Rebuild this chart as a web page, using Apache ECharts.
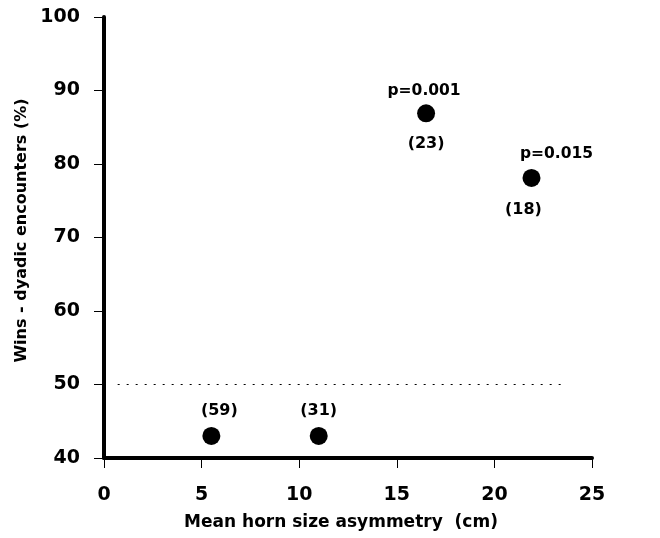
<!DOCTYPE html>
<html><head><meta charset="utf-8">
<script src="https://cdn.jsdelivr.net/npm/echarts@6/dist/echarts.min.js"></script>
<style>html,body{margin:0;padding:0;background:#fff}#c{width:660px;height:538px}</style>
</head><body><div id="c"></div>
<script>
const asymmetry = [5.5, 11, 16.5, 21.9];
const winsPct = [43, 43, 86.9, 78.1];
const sampleSizes = ['(59)', '(31)', '(23)', '(18)'];
const pValues = ['', '', 'p=0.001', 'p=0.015'];
const xTicks = [0, 5, 10, 15, 20, 25];
const yTicks = [40, 50, 60, 70, 80, 90, 100];
const refLevel = 50;
const refRange = [0.7, 23.7];

const F = '"DejaVu Sans", sans-serif';
const nLabelPos = [
  {position: 'top', distance: 8, offset: [8, 0]},
  {position: 'top', distance: 8, offset: [0, 0]},
  {position: 'bottom', distance: 14, offset: [0, 0]},
  {position: 'bottom', distance: 15, offset: [-8, 0]}
];
const pLabelPos = [null, null,
  {position: 'top', distance: 5, offset: [-2, 0]},
  {position: 'top', distance: 7, offset: [25, 0]}
];

const chart = echarts.init(document.getElementById('c'));
chart.setOption({
  animation: false,
  backgroundColor: '#fff',
  grid: {left: 104, top: 17, right: 68, bottom: 80},
  xAxis: {
    type: 'value', min: 0, max: 25, interval: 5,
    name: 'Mean horn size asymmetry  (cm)', nameLocation: 'middle', nameGap: 56,
    nameTextStyle: {fontFamily: F, fontWeight: 'bold', fontSize: 17, color: '#000', padding: [0, 14, 0, 0]},
    axisLine: {show: true, onZero: false, lineStyle: {color: '#000', width: 4}},
    axisTick: {show: true, inside: false, length: 10, lineStyle: {color: '#000', width: 1}},
    axisLabel: {fontFamily: F, fontWeight: 'bold', fontSize: 19, color: '#000', margin: 28,
      formatter: v => xTicks.includes(v) ? String(v) : ''},
    splitLine: {show: false}
  },
  yAxis: {
    type: 'value', min: 40, max: 100, interval: 10,
    name: 'Wins - dyadic encounters (%)', nameLocation: 'middle', nameGap: 67,
    nameTextStyle: {fontFamily: F, fontWeight: 'bold', fontSize: 16, color: '#000', padding: [0, 0, 0, 14]},
    axisLine: {show: true, onZero: false, lineStyle: {color: '#000', width: 4}},
    axisTick: {show: true, inside: false, length: 10, lineStyle: {color: '#000', width: 1}},
    axisLabel: {fontFamily: F, fontWeight: 'bold', fontSize: 19, color: '#000', margin: 24,
      formatter: v => yTicks.includes(v) ? String(v) : ''},
    splitLine: {show: false}
  },
  series: [
    {
      type: 'scatter', symbolSize: 18, itemStyle: {color: '#000', opacity: 1},
      data: asymmetry.map((x, i) => ({
        value: [x, winsPct[i]],
        label: Object.assign({show: true, formatter: sampleSizes[i], fontFamily: F, fontWeight: 'bold', fontSize: 16, color: '#000'}, nLabelPos[i])
      })),
      markLine: {
        silent: true, symbol: 'none', label: {show: false},
        lineStyle: {type: [2, 7], color: '#000', width: 1, opacity: 1},
        data: [[{coord: [refRange[0], refLevel]}, {coord: [refRange[1], refLevel]}]]
      }
    },
    {
      type: 'scatter', symbolSize: 18, itemStyle: {color: 'rgba(0,0,0,0)', opacity: 1},
      silent: true,
      data: asymmetry.map((x, i) => ({
        value: [x, winsPct[i]],
        label: pValues[i] ? Object.assign({show: true, formatter: pValues[i], fontFamily: F, fontWeight: 'bold', fontSize: 15.5, color: '#000'}, pLabelPos[i]) : {show: false}
      }))
    }
  ]
});
</script></body></html>
